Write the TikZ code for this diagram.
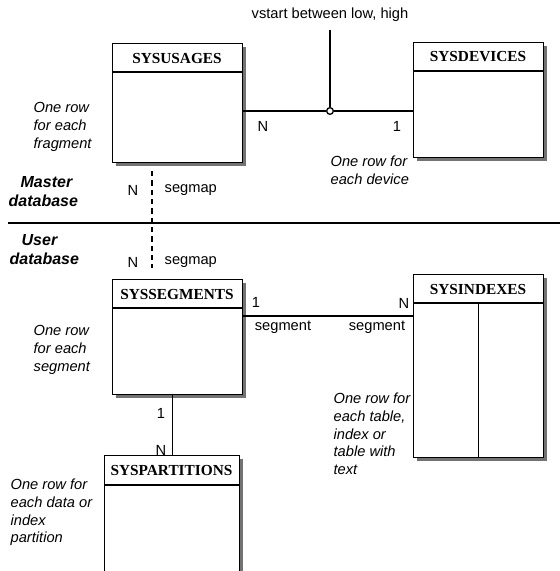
\documentclass[tikz,border=0pt]{standalone}
\usepackage{fontspec}
\setmainfont{Liberation Sans}
\newfontfamily\tblfont{Liberation Serif}
\usetikzlibrary{shadows}

\begin{document}
\begin{tikzpicture}[x=0.75pt, y=-0.75pt, line width=1pt,
        tbl/.style = {draw, fill=white, anchor=north west, inner sep=0pt,
            drop shadow={shadow xshift=2.2pt, shadow yshift=-2.2pt, fill=black!55, opacity=1}},
        ttl/.style = {font=\tblfont\bfseries\fontsize{11.5}{13}\selectfont, inner sep=0pt},
        lbl/.style = {font=\fontsize{11}{13}\selectfont, inner sep=0pt},
        note/.style = {font=\itshape\fontsize{11}{13.4}\selectfont, align=left, anchor=north west, inner sep=0pt},
        db/.style = {font=\bfseries\itshape\fontsize{12}{14}\selectfont, align=left, anchor=north west, inner sep=0pt}]
    \useasboundingbox (0,0) rectangle (560,571);
    \clip (0,0) rectangle (560,571);

    \node[tbl, minimum width=97.5pt, minimum height=89.25pt] (usages) at (112,43) {};
    \node[tbl, minimum width=97.5pt, minimum height=86.25pt] (devices) at (413,42) {};
    \node[tbl, minimum width=97.5pt, minimum height=86.25pt] (segments) at (112,279) {};
    \node[tbl, minimum width=97.5pt, minimum height=137.25pt] (indexes) at (413,274) {};
    \node[tbl, minimum width=101.25pt, minimum height=93.75pt] (partitions) at (104,455) {};

    \draw (usages.north west) ++(0,29) -- ++(130,0);
    \draw (devices.north west) ++(0,29) -- ++(130,0);
    \draw (segments.north west) ++(0,29) -- ++(130,0);
    \draw (indexes.north west) ++(0,29) -- ++(130,0);
    \draw (partitions.north west) ++(0,30) -- ++(135,0);
    \draw (indexes.south) -- ++(0,-154);

    \node[ttl] (usagesT) at (177,58) {SYSUSAGES};
    \node[ttl] (devicesT) at (478,57) {SYSDEVICES};
    \node[ttl] (segmentsT) at (177,294) {SYSSEGMENTS};
    \node[ttl] (indexesT) at (478,289) {SYSINDEXES};
    \node[ttl] (partitionsT) at (171.5,470) {SYSPARTITIONS};

    \node[circle, draw, fill=white, inner sep=0pt, minimum size=5pt] (jn) at (330,111) {};
    \coordinate (vtop) at (330,30);
    \node[lbl] (range) at (330,15) {vstart between low, high};
    \path (usages.east |- jn) edge (jn.west);
    \path (jn.east) edge (devices.west |- jn);
    \path (jn.north) edge (vtop);
    \node[lbl] (un) at (263,126) {N};
    \node[lbl] (d1) at (397,126) {1};

    \coordinate (dtop) at (152,171);
    \coordinate (dbot) at (152,268);
    \draw[dash pattern=on 4pt off 3pt] (dtop) -- (dbot);
    \node[lbl] (mn) at (133,190) {N};
    \node[lbl, anchor=west] (msm) at (164,190) {segmap};
    \node[lbl] (usn) at (133,262) {N};
    \node[lbl, anchor=west] (usm) at (164,262) {segmap};

    \coordinate (sepL) at (8,223);
    \coordinate (sepR) at (560,223);
    \draw[line width=2pt] (sepL) -- (sepR);
    \node[db] (master) at (8,176) {\hspace{9pt}Master\\database};
    \node[db] (user) at (9,234) {\hspace{9pt}User\\database};

    \coordinate (sg) at (330,316);
    \path (segments.east |- sg) edge (indexes.west |- sg);
    \node[lbl] (s1) at (256,302) {1};
    \node[lbl] (in) at (404,303) {N};
    \node[lbl] (sgl) at (283,327) {segment};
    \node[lbl] (sgr) at (377,327) {segment};

    \path (partitions.north) edge (partitions.north |- segments.south);
    \node[lbl] (p1) at (161,413) {1};
    \node[lbl] (pn) at (161,450) {N};

    \node[note] (fragN) at (33,102) {One row\\for each\\fragment};
    \node[note] (devN) at (330,155) {One row for\\each device};
    \node[note] (segN) at (33,325) {One row\\for each\\segment};
    \node[note] (idxN) at (333,392) {One row for\\each table,\\index or\\table with\\text};
    \node[note] (partN) at (10,478) {One row for\\each data or\\index\\partition};
\end{tikzpicture}
\end{document}
